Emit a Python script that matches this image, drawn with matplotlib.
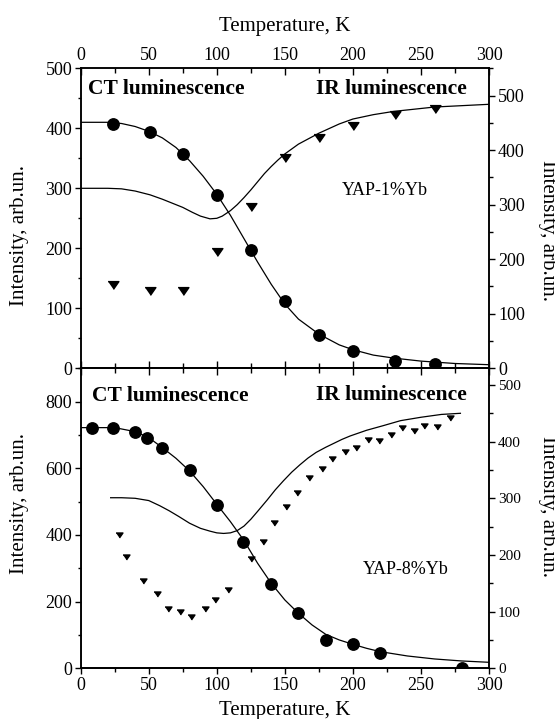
import matplotlib
matplotlib.use("Agg")
import matplotlib.pyplot as plt
from matplotlib.ticker import MultipleLocator

plt.rcParams['font.family'] = ['Liberation Serif', 'DejaVu Serif']
plt.rcParams['mathtext.fontset'] = 'stix'

# ---------------- data: YAP-1%Yb (top panel) ----------------
t1_ct = [24, 51, 75, 100, 125, 150, 175, 200, 231, 260]
i1_ct = [408, 394, 357, 289, 197, 112, 56, 29, 13, 7]
t1_ir = [24, 51, 75, 100, 125, 150, 175, 200, 231, 260]
i1_ir = [152, 142, 141, 213, 295, 385, 422, 445, 465, 476]
t1_ct_fit = [0, 20, 30, 40, 50, 60, 70, 80, 90, 100, 110, 120, 130, 140, 150,
             160, 175, 190, 200, 215, 230, 250, 275, 300]
i1_ct_fit = [410, 410, 408, 403, 395, 384, 368, 346, 320, 290, 255, 216, 177, 140,
             107, 82, 57, 39, 31, 22, 17, 12, 8, 6]
t1_ir_fit = [0, 20, 30, 40, 51, 60, 68, 75, 82, 88, 95, 100, 104, 110, 115, 120,
             125, 130, 135, 140, 145, 150, 160, 175, 190, 200, 215, 230, 260, 300]
i1_ir_fit = [330, 330, 329, 325, 318, 310, 302, 295, 286, 279, 274, 275, 279, 289,
             300, 313, 327, 342, 357, 370, 382, 393, 411, 431, 448, 457, 465, 471,
             479, 484]

# ---------------- data: YAP-8%Yb (bottom panel) ----------------
t8_ct = [8, 23.5, 40, 49, 60, 80, 100, 119.5, 139.5, 159.5, 180, 200, 220, 280]
i8_ct = [720, 722, 709, 691, 660, 594, 491, 380, 253, 165, 85, 72, 47, 2]
t8_ir = [28, 33, 46, 56, 64, 73, 81, 91, 99, 108, 125, 134, 142, 151, 159, 168,
         177, 185, 194, 202, 211, 219, 228, 236, 245, 252, 262, 271]
i8_ir = [235, 197, 154, 131, 105, 99, 90, 105, 120, 138, 193, 222, 256, 285, 310,
         335, 351, 370, 382, 388, 403, 401, 412, 424, 419, 428, 425, 441]
t8_ct_fit = [0, 0.4, 10, 25, 40, 50, 60, 70, 80, 90, 100, 110, 120, 130, 140, 150,
             160, 170, 180, 190, 200, 210, 220, 240, 260, 280, 300]
i8_ct_fit = [0, 722, 722, 722, 710, 692, 662, 630, 592, 545, 492, 440, 383, 315,
             255, 205, 165, 130, 102, 85, 72, 60, 50, 37, 28, 22, 18]
t8_ir_fit = [22, 30, 40, 50, 58, 65, 72, 80, 88, 95, 100, 105, 110, 115, 120, 125,
             130, 137, 143, 149, 155, 161, 167, 173, 180, 186, 192, 198, 210, 222,
             235, 250, 265, 279]
i8_ir_fit = [301, 301, 300, 296, 287, 278, 268, 256, 247, 242, 239, 238, 239, 243,
             251, 263, 277, 297, 315, 331, 346, 359, 371, 381, 390, 397, 404, 410,
             420, 428, 437, 443, 448, 450]

x_ticks = [0, 50, 100, 150, 200, 250, 300]
x_label = "Temperature, K"
y_label = "Intensity, arb.un."
ct_text = "CT luminescence"
ir_text = "IR luminescence"
sample1 = "YAP-1%Yb"
sample2 = "YAP-8%Yb"

# ---------------- figure ----------------
W, H = 555, 719
fig = plt.figure(figsize=(W / 100, H / 100), dpi=100)

ax_l = 80.7 / W
ax_w = (489.0 - 80.7) / W
ax_h = 300.0 / H
ax1 = fig.add_axes([ax_l, (H - 368.3) / H, ax_w, ax_h])
ax2 = fig.add_axes([ax_l, (H - 668.3) / H, ax_w, ax_h])
ax1r = ax1.twinx()
ax2r = ax2.twinx()

tri = [(-1, 0.72), (1, 0.72), (0, -0.72)]
lw = 0.9

# top panel
ax1.plot(t1_ct_fit, i1_ct_fit, color='black', lw=lw)
ax1.plot(t1_ct, i1_ct, 'o', color='black', ms=8.2, zorder=5)
ax1r.plot(t1_ir_fit, i1_ir_fit, color='black', lw=lw)
ax1r.plot(t1_ir, i1_ir, linestyle='none', marker=tri, color='black', ms=7.8)

# bottom panel
ax2.plot(t8_ct_fit, i8_ct_fit, color='black', lw=lw)
ax2.plot(t8_ct, i8_ct, 'o', color='black', ms=8.2, zorder=5)
ax2r.plot(t8_ir_fit, i8_ir_fit, color='black', lw=lw)
ax2r.plot(t8_ir, i8_ir, linestyle='none', marker=tri, color='black', ms=5.0)

for ax in (ax1, ax2):
    ax.set_xlim(0, 300)
    ax.set_xticks(x_ticks)
    ax.xaxis.set_minor_locator(MultipleLocator(25))
ax1.set_ylim(0, 500)
ax1.yaxis.set_major_locator(MultipleLocator(100))
ax1.yaxis.set_minor_locator(MultipleLocator(50))
ax2.set_ylim(0, 900)
ax2.set_yticks([0, 200, 400, 600, 800])
ax2.yaxis.set_minor_locator(MultipleLocator(100))

ax1r.set_ylim(0, 550)
ax1r.set_yticks([0, 100, 200, 300, 400, 500])
ax1r.yaxis.set_minor_locator(MultipleLocator(50))
ax2r.set_ylim(0, 529.4)
ax2r.set_yticks([0, 100, 200, 300, 400, 500])
ax2r.yaxis.set_minor_locator(MultipleLocator(50))

for a in (ax1, ax2, ax1r, ax2r):
    for s in a.spines.values():
        s.set_linewidth(1.1)

# top panel ticks: x on top (labels) and bottom (no labels), inward
ax1.tick_params(axis='x', which='both', top=True, bottom=True, labeltop=True,
                labelbottom=False, direction='in', labelsize=13, pad=3)
ax1.tick_params(axis='x', which='major', length=5, width=1)
ax1.tick_params(axis='x', which='minor', length=3.5, width=1)
ax1.tick_params(axis='y', which='both', left=True, right=False, direction='out',
                labelsize=13, pad=1.5)
ax1.tick_params(axis='y', which='major', length=4.5, width=1)
ax1.tick_params(axis='y', which='minor', length=2.5, width=1)

ax2.tick_params(axis='x', which='both', top=True, bottom=False, labeltop=False,
                labelbottom=False, direction='in')
ax2.tick_params(axis='x', which='major', length=5, width=1)
ax2.tick_params(axis='x', which='minor', length=3.5, width=1)
ax2.tick_params(axis='y', which='both', left=True, right=False, direction='out',
                labelsize=13, pad=1.5)
ax2.tick_params(axis='y', which='major', length=4.5, width=1)
ax2.tick_params(axis='y', which='minor', length=2.5, width=1)

# bottom axis of bottom panel: outward ticks with labels
ax2b = ax2.secondary_xaxis('bottom')
ax2b.set_xticks(x_ticks)
ax2b.xaxis.set_minor_locator(MultipleLocator(25))
ax2b.tick_params(axis='x', which='both', direction='out', labelsize=13, pad=2)
ax2b.tick_params(axis='x', which='major', length=4.5, width=1)
ax2b.tick_params(axis='x', which='minor', length=3, width=1)
ax2b.spines['bottom'].set_linewidth(1.1)

for a, fs in ((ax1r, 13), (ax2r, 11)):
    a.tick_params(axis='y', which='both', direction='out', labelsize=fs, pad=2)
    a.tick_params(axis='y', which='major', length=4.5, width=1)
    a.tick_params(axis='y', which='minor', length=3, width=1)

# texts inside
bold = dict(fontsize=15.5, fontweight='bold', va='center')
ax1.text(0.019, 0.93, ct_text, transform=ax1.transAxes, ha='left', **bold)
ax1.text(0.946, 0.93, ir_text, transform=ax1.transAxes, ha='right', **bold)
ax2.text(0.027, 0.909, ct_text, transform=ax2.transAxes, ha='left', **bold)
ax2.text(0.945, 0.911, ir_text, transform=ax2.transAxes, ha='right', **bold)
ax1.text(0.746, 0.594, sample1, transform=ax1.transAxes, ha='center', va='center', fontsize=13)
ax2.text(0.796, 0.328, sample2, transform=ax2.transAxes, ha='center', va='center', fontsize=13)

# axis titles
fig.text(284.9 / W, 1 - 26 / H, x_label, ha='center', va='center', fontsize=15)
fig.text(284.9 / W, 1 - 710 / H, x_label, ha='center', va='center', fontsize=15)
fig.text(20 / W, 1 - 236 / H, y_label, ha='center', va='center', rotation=90, fontsize=15)
fig.text(20 / W, 1 - 503 / H, y_label, ha='center', va='center', rotation=90, fontsize=15)
fig.text(547 / W, 1 - 230 / H, y_label, ha='center', va='center', rotation=270, fontsize=15)
fig.text(547 / W, 1 - 507 / H, y_label, ha='center', va='center', rotation=270, fontsize=15)

fig.savefig("out.png", dpi=100)
